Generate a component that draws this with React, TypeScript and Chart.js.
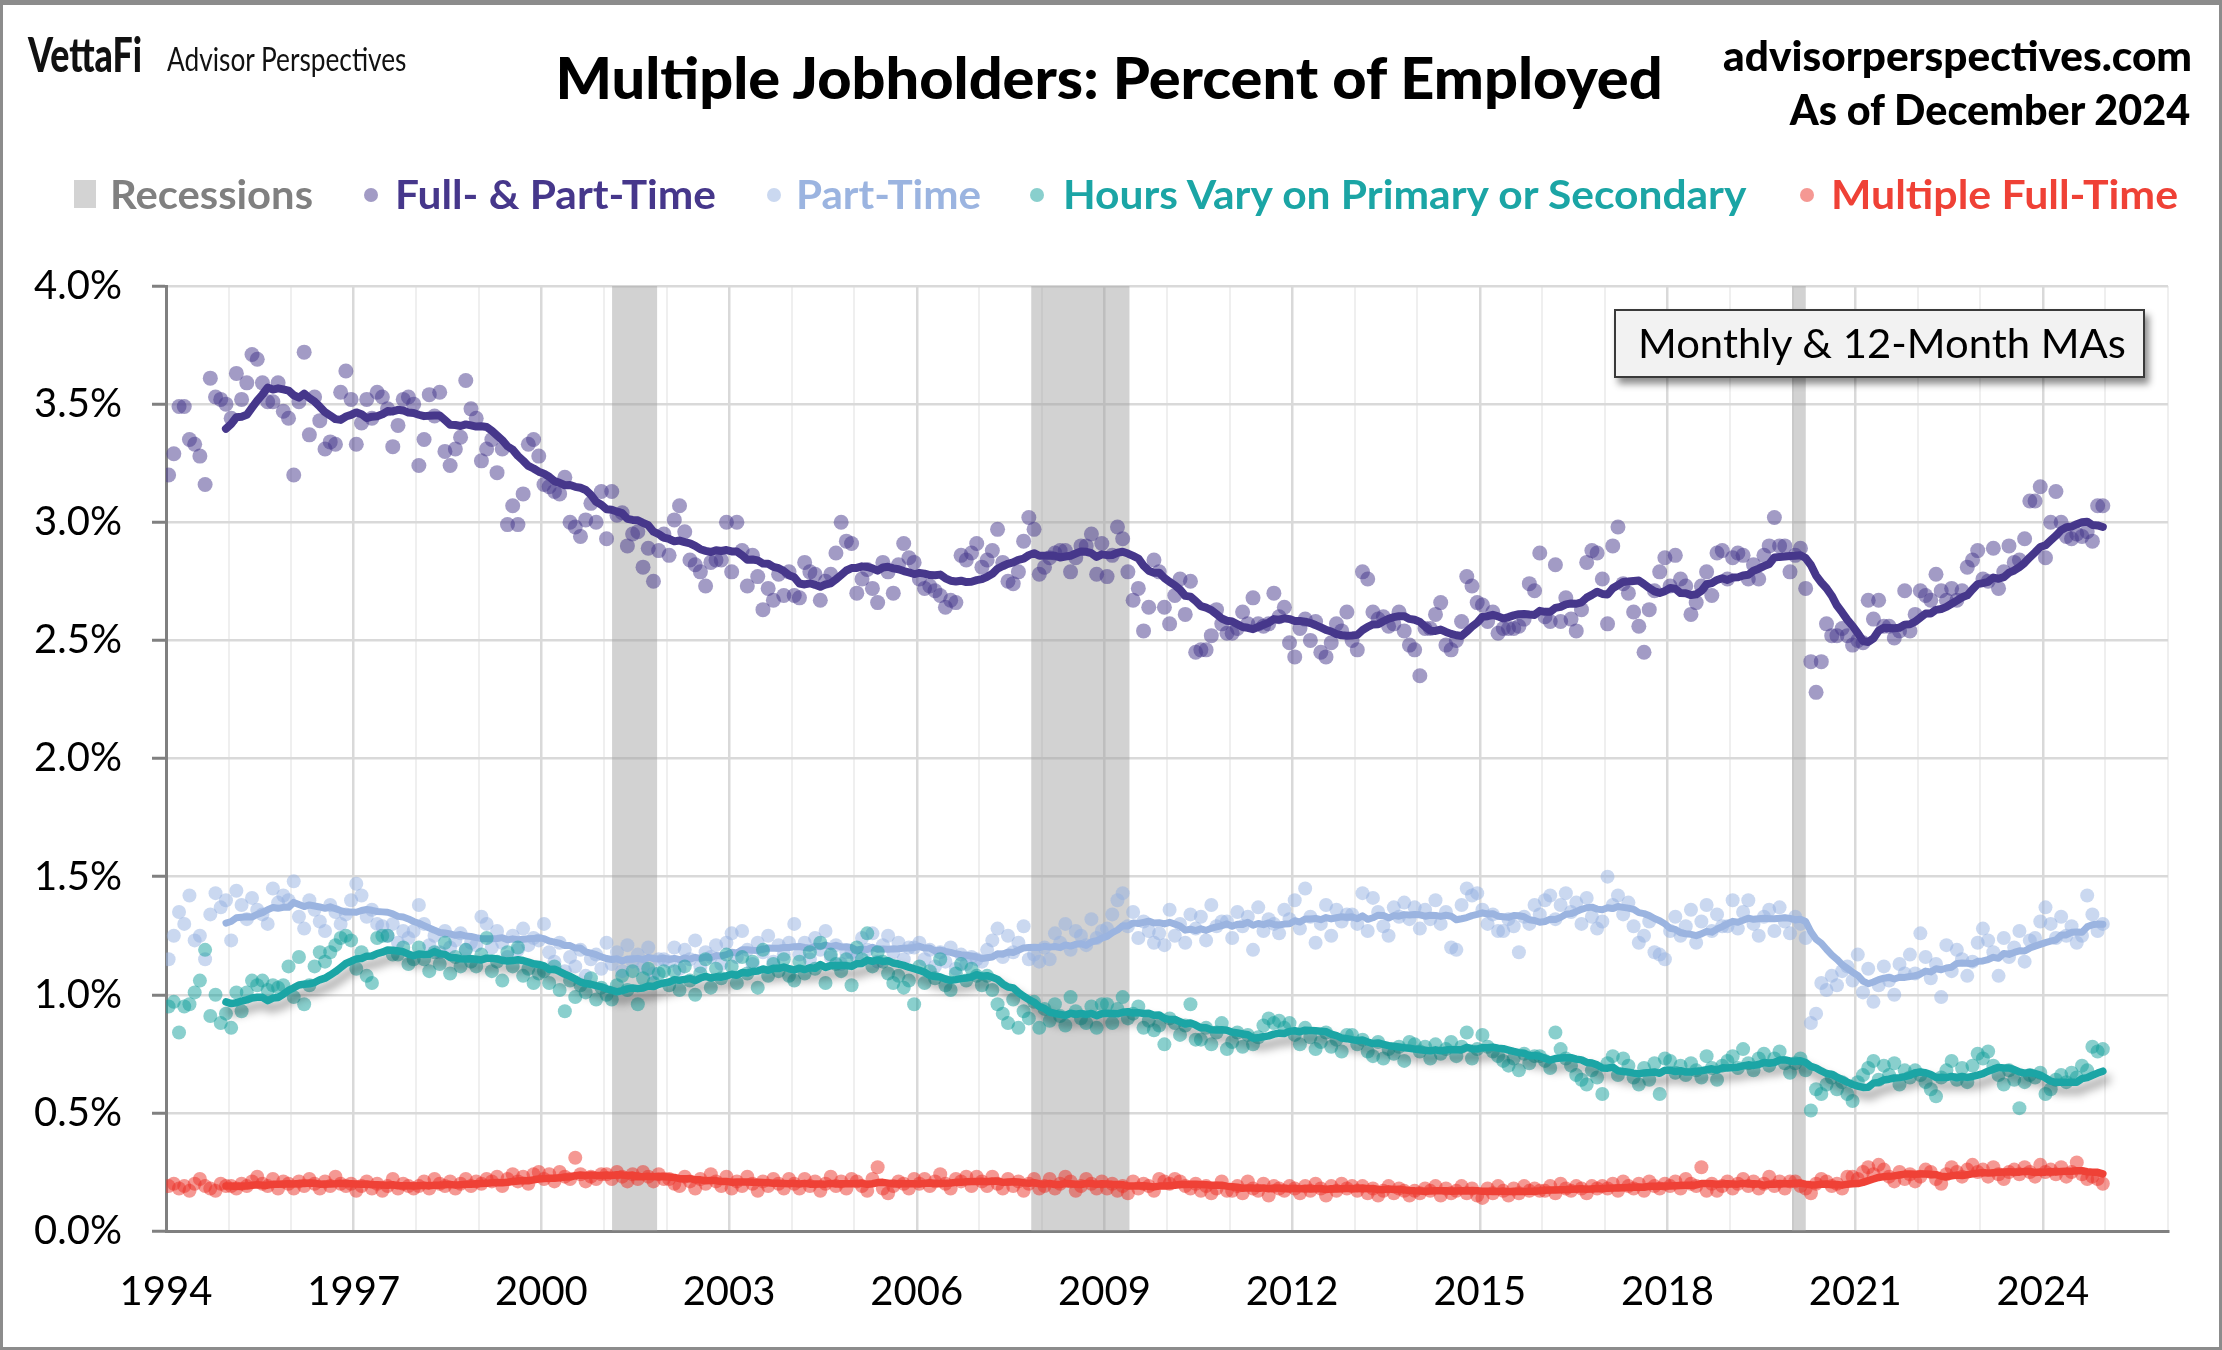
import React, { useEffect, useRef } from 'react';
import { Chart, registerables } from 'chart.js';

Chart.register(...registerables);

// ---------------- DATA ----------------
const START_YEAR = 1994;
const xTickLabels = [1994, 1997, 2000, 2003, 2006, 2009, 2012, 2015, 2018, 2021, 2024];
const recessionStart = [2001.13, 2007.83, 2019.99];
const recessionEnd = [2001.85, 2009.4, 2020.21];

// Full- & Part-Time multiple jobholders, % of employed, monthly Jan 1994 - Dec 2024
const fullPartTime = [
  3.20, 3.29, 3.49, 3.49, 3.35, 3.33, 3.28, 3.16, 3.61, 3.53, 3.52, 3.50,
  3.44, 3.63, 3.52, 3.59, 3.71, 3.69, 3.59, 3.51, 3.51, 3.59, 3.47, 3.44,
  3.20, 3.51, 3.72, 3.37, 3.53, 3.43, 3.31, 3.34, 3.33, 3.55, 3.64, 3.52,
  3.33, 3.42, 3.52, 3.44, 3.55, 3.53, 3.48, 3.32, 3.41, 3.52, 3.53, 3.50,
  3.24, 3.35, 3.54, 3.45, 3.55, 3.30, 3.24, 3.31, 3.36, 3.60, 3.48, 3.44,
  3.26, 3.31, 3.35, 3.21, 3.31, 2.99, 3.07, 2.99, 3.12, 3.33, 3.35, 3.28,
  3.16, 3.15, 3.13, 3.12, 3.19, 3.00, 2.98, 2.94, 3.01, 3.08, 3.00, 3.13,
  2.93, 3.13, 3.03, 3.04, 2.90, 2.95, 2.96, 2.81, 2.89, 2.75, 2.88, 2.95,
  2.86, 3.01, 3.07, 2.96, 2.84, 2.82, 2.79, 2.73, 2.83, 2.84, 2.84, 3.00,
  2.79, 3.00, 2.88, 2.73, 2.86, 2.77, 2.63, 2.72, 2.67, 2.78, 2.69, 2.79,
  2.69, 2.68, 2.83, 2.79, 2.78, 2.67, 2.75, 2.78, 2.87, 3.00, 2.92, 2.91,
  2.70, 2.76, 2.80, 2.72, 2.66, 2.83, 2.79, 2.70, 2.82, 2.91, 2.85, 2.83,
  2.76, 2.72, 2.73, 2.71, 2.69, 2.64, 2.67, 2.66, 2.86, 2.84, 2.87, 2.91,
  2.81, 2.84, 2.88, 2.97, 2.83, 2.75, 2.74, 2.79, 2.92, 3.02, 2.97, 2.78,
  2.81, 2.85, 2.87, 2.88, 2.88, 2.79, 2.85, 2.90, 2.90, 2.95, 2.78, 2.91,
  2.77, 2.86, 2.98, 2.93, 2.79, 2.67, 2.72, 2.54, 2.64, 2.84, 2.79, 2.64,
  2.57, 2.69, 2.76, 2.61, 2.75, 2.45, 2.46, 2.46, 2.52, 2.63, 2.57, 2.53,
  2.53, 2.55, 2.62, 2.57, 2.68, 2.57, 2.56, 2.57, 2.70, 2.60, 2.64, 2.49,
  2.43, 2.55, 2.59, 2.50, 2.58, 2.45, 2.43, 2.49, 2.57, 2.54, 2.62, 2.50,
  2.46, 2.79, 2.76, 2.62, 2.59, 2.60, 2.56, 2.57, 2.62, 2.54, 2.48, 2.46,
  2.35, 2.55, 2.55, 2.61, 2.66, 2.48, 2.46, 2.50, 2.58, 2.77, 2.73, 2.66,
  2.65, 2.58, 2.62, 2.53, 2.55, 2.55, 2.55, 2.56, 2.59, 2.74, 2.71, 2.87,
  2.60, 2.58, 2.82, 2.58, 2.68, 2.59, 2.54, 2.63, 2.83, 2.88, 2.87, 2.76,
  2.57, 2.90, 2.98, 2.74, 2.70, 2.62, 2.56, 2.45, 2.63, 2.71, 2.79, 2.85,
  2.73, 2.86, 2.76, 2.73, 2.61, 2.66, 2.73, 2.79, 2.69, 2.87, 2.88, 2.76,
  2.85, 2.87, 2.86, 2.76, 2.82, 2.76, 2.86, 2.90, 3.02, 2.90, 2.90, 2.79,
  2.86, 2.89, 2.72, 2.41, 2.28, 2.41, 2.57, 2.52, 2.52, 2.55, 2.52, 2.48,
  2.50, 2.49, 2.67, 2.59, 2.67, 2.56, 2.56, 2.51, 2.54, 2.71, 2.54, 2.61,
  2.71, 2.69, 2.67, 2.78, 2.71, 2.67, 2.72, 2.67, 2.71, 2.81, 2.84, 2.88,
  2.76, 2.75, 2.89, 2.72, 2.79, 2.90, 2.83, 2.84, 2.93, 3.09, 3.09, 3.15,
  2.85, 3.00, 3.13, 3.00, 2.94, 2.93, 2.95, 2.94, 2.96, 2.92, 3.07, 3.07,
];

const partTime = [
  1.15, 1.25, 1.35, 1.30, 1.42, 1.23, 1.25, 1.15, 1.34, 1.43, 1.37, 1.40,
  1.23, 1.44, 1.38, 1.32, 1.41, 1.36, 1.34, 1.30, 1.45, 1.39, 1.42, 1.40,
  1.48, 1.33, 1.28, 1.40, 1.36, 1.31, 1.27, 1.38, 1.35, 1.30, 1.34, 1.40,
  1.47, 1.42, 1.33, 1.36, 1.30, 1.29, 1.25, 1.30, 1.22, 1.27, 1.24, 1.27,
  1.38, 1.30, 1.21, 1.25, 1.18, 1.27, 1.20, 1.23, 1.26, 1.19, 1.22, 1.21,
  1.33, 1.30, 1.20, 1.27, 1.22, 1.16, 1.25, 1.19, 1.28, 1.21, 1.24, 1.23,
  1.30, 1.18, 1.14, 1.22, 1.10, 1.16, 1.12, 1.19, 1.08, 1.15, 1.17, 1.11,
  1.22, 1.13, 1.18, 1.10, 1.21, 1.14, 1.17, 1.12, 1.20, 1.09, 1.15, 1.15,
  1.14, 1.20, 1.11, 1.19, 1.15, 1.23, 1.12, 1.18, 1.16, 1.21, 1.13, 1.22,
  1.26, 1.16, 1.27, 1.19, 1.13, 1.22, 1.18, 1.25, 1.14, 1.21, 1.17, 1.22,
  1.30, 1.17, 1.22, 1.15, 1.24, 1.19, 1.27, 1.16, 1.21, 1.13, 1.18, 1.18,
  1.16, 1.24, 1.19, 1.26, 1.14, 1.21, 1.25, 1.18, 1.22, 1.15, 1.20, 1.20,
  1.22, 1.15, 1.19, 1.12, 1.18, 1.14, 1.20, 1.11, 1.17, 1.13, 1.16, 1.15,
  1.14, 1.19, 1.23, 1.28, 1.16, 1.25, 1.18, 1.22, 1.29, 1.15, 1.17, 1.14,
  1.20, 1.15, 1.26, 1.22, 1.30, 1.19, 1.27, 1.25, 1.21, 1.32, 1.24, 1.27,
  1.28, 1.34, 1.40, 1.43, 1.29, 1.35, 1.24, 1.31, 1.27, 1.22, 1.26, 1.21,
  1.36, 1.25, 1.30, 1.22, 1.34, 1.28, 1.33, 1.23, 1.38, 1.29, 1.31, 1.31,
  1.24, 1.35, 1.29, 1.33, 1.19, 1.37, 1.27, 1.32, 1.30, 1.26, 1.36, 1.32,
  1.40, 1.28, 1.45, 1.33, 1.22, 1.30, 1.38, 1.25, 1.36, 1.31, 1.34, 1.34,
  1.30, 1.43, 1.27, 1.41, 1.35, 1.29, 1.25, 1.37, 1.33, 1.39, 1.32, 1.37,
  1.28, 1.36, 1.32, 1.40, 1.30, 1.35, 1.20, 1.19, 1.38, 1.45, 1.42, 1.43,
  1.36, 1.30, 1.34, 1.27, 1.27, 1.32, 1.29, 1.18, 1.33, 1.30, 1.38, 1.34,
  1.40, 1.42, 1.32, 1.38, 1.43, 1.35, 1.39, 1.30, 1.41, 1.33, 1.28, 1.31,
  1.50, 1.38, 1.42, 1.34, 1.39, 1.29, 1.22, 1.25, 1.31, 1.18, 1.17, 1.15,
  1.27, 1.33, 1.25, 1.29, 1.36, 1.22, 1.31, 1.38, 1.27, 1.34, 1.29, 1.29,
  1.40, 1.28, 1.35, 1.40, 1.30, 1.25, 1.33, 1.36, 1.27, 1.37, 1.31, 1.26,
  1.33, 1.30, 1.24, 0.88, 0.92, 1.05, 1.02, 1.08, 1.04, 1.10, 1.12, 1.06,
  1.17, 1.01, 1.11, 0.97, 1.04, 1.12, 1.06, 1.00, 1.13, 1.09, 1.17, 1.09,
  1.26, 1.16, 1.07, 1.13, 0.99, 1.21, 1.10, 1.19, 1.15, 1.08, 1.14, 1.22,
  1.28, 1.23, 1.18, 1.08, 1.24, 1.16, 1.20, 1.27, 1.14, 1.23, 1.24, 1.31,
  1.37, 1.30, 1.24, 1.33, 1.25, 1.29, 1.22, 1.25, 1.42, 1.34, 1.27, 1.30,
];

const hoursVary = [
  0.95, 0.97, 0.84, 0.95, 0.96, 1.01, 1.06, 1.19, 0.91, 1.00, 0.88, 0.92,
  0.86, 1.01, 0.93, 1.01, 1.06, 1.04, 1.06, 1.02, 1.04, 1.03, 1.04, 1.12,
  0.99, 1.16, 0.96, 1.04, 1.12, 1.18, 1.14, 1.18, 1.21, 1.24, 1.25, 1.23,
  1.11, 1.18, 1.08, 1.05, 1.24, 1.25, 1.25, 1.17, 1.17, 1.20, 1.13, 1.15,
  1.20, 1.15, 1.10, 1.18, 1.13, 1.22, 1.09, 1.16, 1.12, 1.19, 1.14, 1.12,
  1.17, 1.24, 1.10, 1.14, 1.06, 1.18, 1.12, 1.20, 1.08, 1.11, 1.05, 1.09,
  1.10, 1.05, 1.12, 1.02, 0.93, 1.06, 0.99, 1.04, 1.01, 1.07, 0.98, 1.03,
  1.00, 0.98, 1.04, 1.08, 1.02, 1.10, 0.96, 1.07, 1.11, 1.05, 1.09, 1.10,
  1.04, 1.10, 1.02, 1.12, 1.06, 1.00, 1.09, 1.15, 1.03, 1.11, 1.07, 1.17,
  1.12, 1.05, 1.16, 1.09, 1.14, 1.03, 1.19, 1.08, 1.13, 1.10, 1.15, 1.08,
  1.06, 1.14, 1.09, 1.18, 1.11, 1.22, 1.05, 1.17, 1.13, 1.10, 1.15, 1.04,
  1.20, 1.15, 1.26, 1.12, 1.18, 1.14, 1.09, 1.05, 1.08, 1.03, 1.06, 0.96,
  1.12, 1.05, 1.10, 1.07, 1.15, 1.04, 1.02, 1.09, 1.13, 1.06, 1.11, 1.08,
  1.04, 1.08, 1.02, 0.96, 0.92, 0.88, 0.98, 0.86, 0.93, 0.90, 0.97, 0.86,
  0.94, 0.89, 0.96, 0.91, 0.87, 0.99, 0.93, 0.90, 0.88, 0.95, 0.86, 0.96,
  0.96, 0.88, 0.94, 0.99, 0.90, 0.92, 0.95, 0.86, 0.89, 0.85, 0.87, 0.79,
  0.90, 0.88, 0.83, 0.87, 0.96, 0.81, 0.81, 0.86, 0.79, 0.84, 0.88, 0.77,
  0.80, 0.84, 0.78, 0.83, 0.79, 0.82, 0.87, 0.90, 0.88, 0.89, 0.86, 0.88,
  0.83, 0.79, 0.86, 0.82, 0.77, 0.80, 0.84, 0.78, 0.81, 0.76, 0.83, 0.83,
  0.79, 0.81, 0.76, 0.74, 0.80, 0.73, 0.77, 0.75, 0.78, 0.72, 0.80, 0.79,
  0.76, 0.78, 0.73, 0.79, 0.75, 0.77, 0.80, 0.74, 0.78, 0.84, 0.73, 0.77,
  0.83, 0.78, 0.76, 0.74, 0.72, 0.70, 0.73, 0.68, 0.75, 0.71, 0.74, 0.74,
  0.72, 0.69, 0.84, 0.77, 0.73, 0.70, 0.66, 0.64, 0.62, 0.68, 0.65, 0.58,
  0.71, 0.74, 0.66, 0.73, 0.70, 0.65, 0.62, 0.69, 0.64, 0.71, 0.58, 0.73,
  0.72, 0.67, 0.70, 0.66, 0.71, 0.68, 0.65, 0.74, 0.69, 0.64, 0.70, 0.72,
  0.74, 0.69, 0.77, 0.71, 0.68, 0.73, 0.75, 0.70, 0.73, 0.76, 0.71, 0.67,
  0.71, 0.73, 0.68, 0.51, 0.60, 0.58, 0.62, 0.65, 0.60, 0.63, 0.58, 0.55,
  0.63, 0.66, 0.69, 0.72, 0.64, 0.70, 0.66, 0.71, 0.62, 0.68, 0.65, 0.68,
  0.66, 0.63, 0.60, 0.57, 0.65, 0.68, 0.72, 0.64, 0.69, 0.63, 0.70, 0.75,
  0.73, 0.76, 0.70, 0.66, 0.62, 0.68, 0.64, 0.52, 0.63, 0.66, 0.65, 0.67,
  0.58, 0.60, 0.64, 0.66, 0.63, 0.67, 0.65, 0.70, 0.68, 0.78, 0.76, 0.77,
];

const multipleFullTime = [
  0.19, 0.20, 0.18, 0.19, 0.17, 0.20, 0.22, 0.19, 0.18, 0.17, 0.20, 0.19,
  0.19, 0.18, 0.20, 0.19, 0.21, 0.23, 0.20, 0.19, 0.22, 0.18, 0.21, 0.20,
  0.18, 0.21, 0.19, 0.22, 0.20, 0.18, 0.21, 0.19, 0.23, 0.20, 0.19, 0.20,
  0.17, 0.19, 0.21, 0.18, 0.20, 0.17, 0.19, 0.22, 0.18, 0.20, 0.19, 0.18,
  0.19, 0.21, 0.18, 0.22, 0.20, 0.19, 0.21, 0.18, 0.20, 0.22, 0.19, 0.21,
  0.20, 0.22, 0.21, 0.23, 0.19, 0.22, 0.24, 0.21, 0.23, 0.20, 0.24, 0.25,
  0.22, 0.24, 0.21, 0.25, 0.23, 0.22, 0.31, 0.24, 0.21, 0.23, 0.22, 0.24,
  0.24, 0.22, 0.25, 0.23, 0.21, 0.24, 0.22, 0.25, 0.23, 0.21, 0.24, 0.22,
  0.22, 0.20, 0.19, 0.23, 0.21, 0.18, 0.22, 0.20, 0.24, 0.21, 0.19, 0.23,
  0.18, 0.21, 0.19, 0.23, 0.20, 0.17, 0.21, 0.19, 0.22, 0.20, 0.18, 0.22,
  0.20, 0.18, 0.22, 0.19, 0.21, 0.17, 0.20, 0.23, 0.19, 0.21, 0.18, 0.22,
  0.21, 0.19, 0.17, 0.22, 0.27, 0.18, 0.16, 0.19, 0.21, 0.20, 0.18, 0.22,
  0.20, 0.22, 0.19, 0.21, 0.24, 0.20, 0.18, 0.22, 0.21, 0.23, 0.19, 0.23,
  0.21, 0.19, 0.23, 0.20, 0.18, 0.22, 0.19, 0.21, 0.17, 0.20, 0.22, 0.18,
  0.19, 0.22, 0.18, 0.20, 0.23, 0.21, 0.17, 0.19, 0.22, 0.20, 0.18, 0.21,
  0.18, 0.20, 0.17, 0.19, 0.16, 0.21, 0.18, 0.20, 0.19, 0.17, 0.22, 0.21,
  0.20, 0.22, 0.21, 0.19, 0.18, 0.20, 0.17, 0.19, 0.16, 0.18, 0.21, 0.17,
  0.17, 0.19, 0.16, 0.21, 0.18, 0.17, 0.20, 0.15, 0.19, 0.18, 0.17, 0.19,
  0.18, 0.16, 0.19, 0.17, 0.20, 0.18, 0.15, 0.19, 0.17, 0.20, 0.18, 0.19,
  0.17, 0.19, 0.16, 0.18, 0.15, 0.17, 0.19, 0.16, 0.18, 0.17, 0.15, 0.17,
  0.16, 0.18, 0.17, 0.19, 0.15, 0.18, 0.16, 0.17, 0.19, 0.16, 0.18, 0.15,
  0.14, 0.18, 0.16, 0.19, 0.17, 0.15, 0.18, 0.16, 0.19, 0.17, 0.18, 0.17,
  0.17, 0.19, 0.16, 0.20, 0.18, 0.17, 0.19, 0.18, 0.16, 0.19, 0.18, 0.19,
  0.18, 0.20, 0.17, 0.21, 0.19, 0.18, 0.20, 0.17, 0.21, 0.19, 0.18, 0.20,
  0.19, 0.21, 0.18, 0.22, 0.20, 0.19, 0.27, 0.17, 0.20, 0.17, 0.19, 0.21,
  0.18, 0.20, 0.22, 0.19, 0.21, 0.18, 0.20, 0.23, 0.19, 0.21, 0.18, 0.21,
  0.21, 0.19, 0.18, 0.16, 0.20, 0.22, 0.21, 0.19, 0.20, 0.18, 0.23, 0.23,
  0.22, 0.25, 0.27, 0.24, 0.28, 0.26, 0.23, 0.21, 0.25, 0.22, 0.24, 0.21,
  0.23, 0.26, 0.25, 0.22, 0.20, 0.24, 0.27, 0.25, 0.23, 0.26, 0.28, 0.25,
  0.26, 0.23, 0.27, 0.24, 0.22, 0.25, 0.26, 0.24, 0.27, 0.25, 0.23, 0.28,
  0.25, 0.26, 0.24, 0.27, 0.23, 0.25, 0.29, 0.24, 0.22, 0.23, 0.22, 0.20,
];

// ---------------- STYLE ----------------
const W = 2222;
const H = 1350;
const FONT = 'Lato';

const COLORS = {
  fpt: '#46378b',
  fptDot: 'rgba(70,55,139,0.5)',
  pt: '#9bb4e0',
  ptDot: 'rgba(150,178,226,0.5)',
  hv: '#1ba5a5',
  hvDot: 'rgba(20,160,155,0.5)',
  ft: '#ef4136',
  ftDot: 'rgba(236,50,40,0.5)',
  rec: '#d3d3d3',
};

const monthX = (k: number) => START_YEAR + (k + 0.5) / 12;
const toPoints = (arr: number[]) => arr.map((v, k) => ({ x: monthX(k), y: v }));
const movingAvg = (arr: number[]) => {
  const out: { x: number; y: number }[] = [];
  for (let k = 11; k < arr.length; k++) {
    let s = 0;
    for (let j = k - 11; j <= k; j++) s += arr[j];
    out.push({ x: monthX(k), y: s / 12 });
  }
  return out;
};

const measureCtx = typeof document !== 'undefined' ? document.createElement('canvas').getContext('2d') : null;
function measure(text: string, weight: number, size: number) {
  const c = measureCtx!;
  c.font = `${weight} ${size}px ${FONT}`;
  const m = c.measureText(text);
  const asc = (m as any).fontBoundingBoxAscent ?? size * 0.99;
  const desc = (m as any).fontBoundingBoxDescent ?? size * 0.21;
  return { w: m.width, asc, desc };
}

type FTProps = {
  text: string;
  x: number;
  baseline: number;
  size: number;
  width: number;
  weight?: number;
  color?: string;
  align?: 'left' | 'right' | 'center';
};
function FitText({ text, x, baseline, size, width, weight = 400, color = '#000', align = 'left' }: FTProps) {
  const m = measure(text, weight, size);
  const sx = width / m.w;
  const left = align === 'left' ? x : align === 'right' ? x - m.w : x - m.w / 2;
  const origin = align === 'left' ? 'left top' : align === 'right' ? 'right top' : 'center top';
  return (
    <div
      style={{
        position: 'absolute',
        left,
        top: baseline - m.asc,
        fontFamily: FONT,
        fontSize: size,
        fontWeight: weight,
        lineHeight: `${m.asc + m.desc}px`,
        height: m.asc + m.desc,
        whiteSpace: 'nowrap',
        color,
        transform: `scaleX(${sx})`,
        transformOrigin: origin,
      }}
    >
      {text}
    </div>
  );
}

const recessionPlugin = {
  id: 'recessions',
  beforeDatasetsDraw(chart: any) {
    const { ctx, chartArea, scales } = chart;
    ctx.save();
    ctx.fillStyle = 'rgba(160,160,160,0.47)';
    for (let i = 0; i < recessionStart.length; i++) {
      const x0 = scales.x.getPixelForValue(recessionStart[i]);
      const x1 = scales.x.getPixelForValue(recessionEnd[i]);
      ctx.fillRect(x0, chartArea.top, x1 - x0, chartArea.bottom - chartArea.top);
    }
    ctx.restore();
  },
};

const shadowPlugin = {
  id: 'lineShadow',
  beforeDatasetDraw(chart: any, args: any) {
    const ds = chart.data.datasets[args.index];
    if (ds.shadow) {
      const ctx = chart.ctx;
      ctx.save();
      ctx.shadowColor = 'rgba(0,0,0,0.38)';
      ctx.shadowBlur = 10;
      ctx.shadowOffsetX = 4;
      ctx.shadowOffsetY = 8;
    }
  },
  afterDatasetDraw(chart: any, args: any) {
    const ds = chart.data.datasets[args.index];
    if (ds.shadow) chart.ctx.restore();
  },
};

function ChartCanvas() {
  const ref = useRef<HTMLCanvasElement | null>(null);
  useEffect(() => {
    if (!ref.current) return;
    const dot = (label: string, arr: number[], color: string, order: number, r: number) => ({
      label,
      data: toPoints(arr),
      backgroundColor: color,
      borderWidth: 0,
      pointRadius: r,
      pointHoverRadius: r,
      showLine: false,
      order,
    });
    const line = (label: string, arr: number[], color: string, order: number, width: number, shadow = false) => ({
      label,
      data: movingAvg(arr),
      borderColor: color,
      backgroundColor: color,
      borderWidth: width,
      pointRadius: 0,
      showLine: true,
      fill: false,
      tension: 0,
      borderJoinStyle: 'round',
      borderCapStyle: 'round',
      order,
      shadow,
    });
    const chart = new Chart(ref.current, {
      type: 'scatter',
      data: {
        datasets: [
          dot('Part-Time', partTime, COLORS.ptDot, 8, 7),
          line('Part-Time MA', partTime, COLORS.pt, 7, 7),
          dot('Hours Vary', hoursVary, COLORS.hvDot, 6, 7),
          line('Hours Vary MA', hoursVary, COLORS.hv, 5, 7.5, true),
          dot('Multiple Full-Time', multipleFullTime, COLORS.ftDot, 4, 7),
          line('Multiple Full-Time MA', multipleFullTime, COLORS.ft, 3, 7.5),
          dot('Full- & Part-Time', fullPartTime, COLORS.fptDot, 2, 7.5),
          line('Full- & Part-Time MA', fullPartTime, COLORS.fpt, 1, 8),
        ] as any,
      },
      options: {
        animation: false,
        responsive: false,
        devicePixelRatio: 1,
        events: [],
        layout: { padding: { top: 286, right: 54, left: 0, bottom: 0 } },
        plugins: {
          legend: { display: false },
          title: { display: false },
          tooltip: { enabled: false },
        },
        scales: {
          x: {
            type: 'linear',
            min: 1994,
            max: 2026,
            afterFit: (s: any) => {
              s.height = 119;
            },
            ticks: {
              stepSize: 1,
              autoSkip: false,
              maxRotation: 0,
              padding: 37,
              color: '#000',
              font: { family: FONT, size: 40 },
              callback: (v: any) => (xTickLabels.includes(Math.round(v)) ? String(Math.round(v)) : ''),
            },
            grid: {
              drawTicks: false,
              color: (c: any) => (c.tick && xTickLabels.includes(Math.round(c.tick.value)) ? '#d9d9d9' : '#efefef'),
              lineWidth: (c: any) => (c.tick && xTickLabels.includes(Math.round(c.tick.value)) ? 2.5 : 2),
            },
            border: { display: true, color: '#808080', width: 3 },
          },
          y: {
            type: 'linear',
            min: 0,
            max: 4,
            afterFit: (s: any) => {
              s.width = 166;
            },
            ticks: {
              stepSize: 0.5,
              padding: 30,
              color: '#000',
              font: { family: FONT, size: 40 },
              callback: (v: any) => Number(v).toFixed(1) + '%',
            },
            grid: {
              color: '#d9d9d9',
              lineWidth: 2.5,
              drawTicks: true,
              tickLength: 14,
              tickColor: '#808080',
              tickWidth: 3,
            },
            border: { display: true, color: '#808080', width: 3 },
          },
        },
      } as any,
      plugins: [recessionPlugin, shadowPlugin],
    });
    return () => chart.destroy();
  }, []);
  return <canvas ref={ref} width={W} height={H} style={{ position: 'absolute', left: 0, top: 0, width: W, height: H }} />;
}

const legendItems = [
  { text: 'Full- & Part-Time', dotX: 371, textX: 395, width: 321, color: COLORS.fpt, dot: COLORS.fptDot },
  { text: 'Part-Time', dotX: 774, textX: 796, width: 185, color: COLORS.pt, dot: COLORS.ptDot },
  { text: 'Hours Vary on Primary or Secondary', dotX: 1037, textX: 1063, width: 688, color: COLORS.hv, dot: COLORS.hvDot },
  { text: 'Multiple Full-Time', dotX: 1807, textX: 1831, width: 347, color: COLORS.ft, dot: COLORS.ftDot },
];

export default function App() {
  useEffect(() => {
    document.body.style.margin = '0';
  }, []);
  const LEGEND_BASE = 209;
  return (
    <div style={{ position: 'relative', width: W, height: H, background: '#fff', overflow: 'hidden' }}>
      <ChartCanvas />

      <FitText text="VettaFi" x={28} baseline={72} size={47} width={114} weight={900} color="#111" />
      <FitText text="Advisor Perspectives" x={167} baseline={71} size={33} width={240} weight={400} color="#111" />
      <FitText
        text="Multiple Jobholders: Percent of Employed"
        x={1110}
        baseline={99}
        size={58}
        width={1110}
        weight={900}
        align="center"
      />
      <FitText text="advisorperspectives.com" x={2192} baseline={71} size={42} width={469} weight={900} align="right" />
      <FitText text="As of December 2024" x={2192} baseline={125} size={42} width={402} weight={900} align="right" />

      <div style={{ position: 'absolute', left: 74, top: 180, width: 22, height: 28, background: COLORS.rec }} />
      <FitText text="Recessions" x={110} baseline={LEGEND_BASE} size={41} width={203} weight={700} color="#808080" />
      {legendItems.map((it) => (
        <React.Fragment key={it.text}>
          <div
            style={{
              position: 'absolute',
              left: it.dotX - 7,
              top: 195 - 7,
              width: 14,
              height: 14,
              borderRadius: '50%',
              background: it.dot,
            }}
          />
          <FitText text={it.text} x={it.textX} baseline={LEGEND_BASE} size={41} width={it.width} weight={700} color={it.color} />
        </React.Fragment>
      ))}

      <div
        style={{
          position: 'absolute',
          left: 1614,
          top: 309,
          width: 531,
          height: 69,
          boxSizing: 'border-box',
          background: '#f2f2f2',
          border: '2px solid #3a3a3a',
          boxShadow: '4px 6px 7px rgba(0,0,0,0.45)',
        }}
      />
      <FitText text="Monthly & 12-Month MAs" x={1638} baseline={358} size={40} width={489} weight={400} color="#000" />

      <div
        style={{
          position: 'absolute',
          left: 0,
          top: 0,
          width: W,
          height: H,
          boxSizing: 'border-box',
          border: '3px solid #8c8c8c',
          borderTopWidth: 5,
          pointerEvents: 'none',
        }}
      />
    </div>
  );
}
